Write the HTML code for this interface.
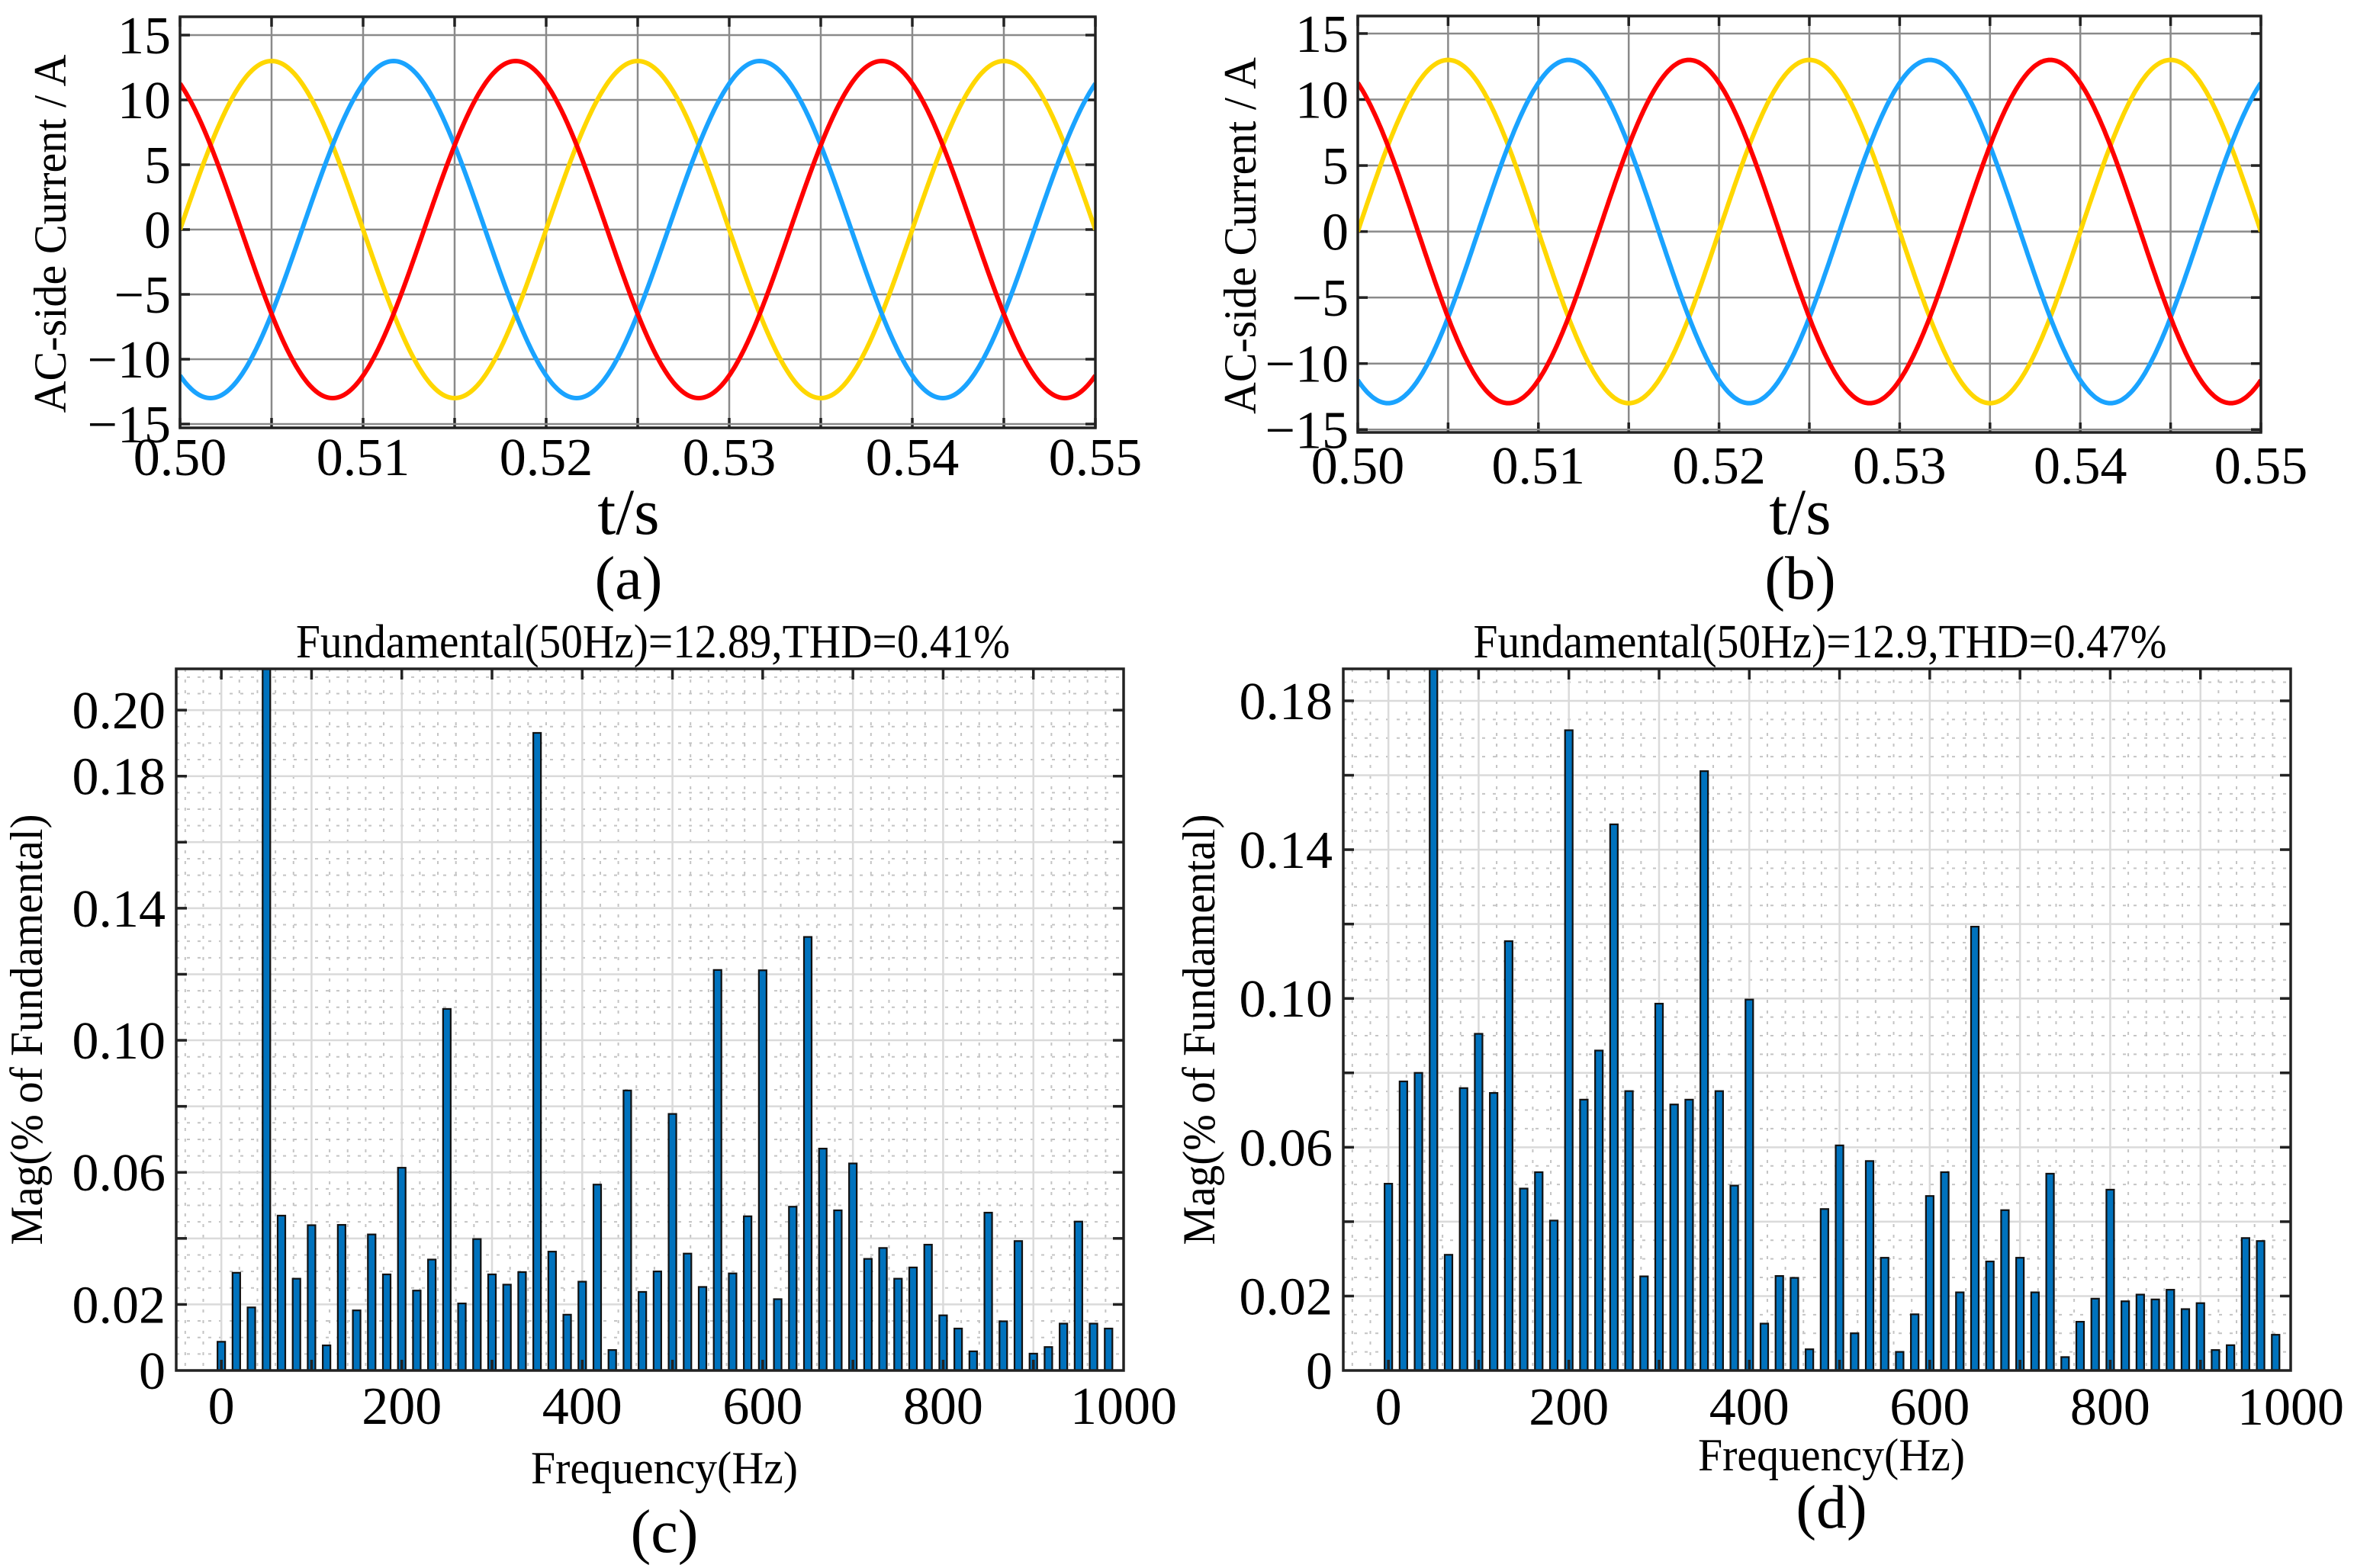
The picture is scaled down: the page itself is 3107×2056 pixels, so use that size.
<!DOCTYPE html>
<html><head><meta charset="utf-8"><style>
html,body{margin:0;padding:0;background:#fff;}
svg{display:block;}
text{font-family:"Liberation Serif",serif;fill:#000;}
</style></head><body>
<svg id="fig" width="3107" height="2056" viewBox="0 0 3107 2056" xmlns="http://www.w3.org/2000/svg"></svg>
<script>
// ---- waveform data (panels a, b) ----
const phaseNames = ['phase-a','phase-b','phase-c'];
const phaseColors = ['#FFD700','#1AA3FF','#FF0000'];
const amplitudesA = [13.0, 13.0, 13.0];
const amplitudesB = [13.0, 13.0, 13.0];
const phaseDeg = [0, -120, 120];
const gridFreq = [50];
const timeTicks = [0.50,0.51,0.52,0.53,0.54,0.55];
const timeTickLabels = ['0.50','0.51','0.52','0.53','0.54','0.55'];
const currentTicks = [-15,-10,-5,0,5,10,15];
const currentTickLabels = ['\u221215','\u221210','\u22125','0','5','10','15'];

// ---- spectrum data (panels c, d) ----
const harmonicStepHz = [50/3];
const spectrumC = [0.0087,0.0296,0.0191,0.25,0.0469,0.0278,0.0440,0.0076,0.0441,0.0182,
 0.0412,0.0291,0.0614,0.0242,0.0336,0.1095,0.0203,0.0398,0.0291,0.0260,
 0.0298,0.1931,0.0360,0.0169,0.0269,0.0563,0.0062,0.0848,0.0238,0.0300,
 0.0777,0.0354,0.0253,0.1213,0.0294,0.0467,0.1212,0.0216,0.0496,0.1313,
 0.0672,0.0485,0.0627,0.0338,0.0371,0.0278,0.0312,0.0381,0.0167,0.0127,
 0.0058,0.0478,0.0149,0.0392,0.0051,0.0071,0.0142,0.0451,0.0142,0.0127];
const spectrumD = [0.0502,0.0777,0.0800,0.25,0.0311,0.0759,0.0905,0.0746,0.1154,0.0489,
 0.0533,0.0403,0.1721,0.0728,0.0860,0.1468,0.0751,0.0253,0.0986,0.0715,
 0.0728,0.1611,0.0751,0.0497,0.0997,0.0126,0.0254,0.0249,0.0057,0.0434,
 0.0605,0.0100,0.0563,0.0303,0.0050,0.0151,0.0469,0.0533,0.0210,0.1193,
 0.0293,0.0431,0.0303,0.0210,0.0529,0.0036,0.0131,0.0193,0.0486,0.0186,
 0.0204,0.0191,0.0217,0.0165,0.0181,0.0055,0.0068,0.0356,0.0348,0.0096];
const freqTicks = [0,200,400,600,800,1000];
const freqTickLabels = ['0','200','400','600','800','1000'];
const magTicksC = [0,0.02,0.06,0.10,0.14,0.18,0.20];
const magTickLabelsC = ['0','0.02','0.06','0.10','0.14','0.18','0.20'];
const magTicksD = [0,0.02,0.06,0.10,0.14,0.18];
const magTickLabelsD = ['0','0.02','0.06','0.10','0.14','0.18'];

const NS='http://www.w3.org/2000/svg';
const fig=document.getElementById('fig');
function mk(tag,attrs,parent){const e=document.createElementNS(NS,tag);for(const k in attrs)e.setAttribute(k,attrs[k]);(parent||fig).appendChild(e);return e;}
function txt(str,attrs,parent){const e=mk('text',attrs,parent);e.textContent=str;return e;}

function wavePanel(id,L,R,T,B,y0,ppu,amps,xlabY,ylabX,ylabLen,letter){
  const g=mk('g',{});
  
  
  const t0=0.5,t1=0.55;
  const sx=t=>L+(t-t0)/(t1-t0)*(R-L);
  const sy=v=>y0-v*ppu;
  for(let k=0;k<=10;k++){const t=t0+k*0.005;const x=sx(t);
    const l=mk('line',{x1:x,x2:x,y1:T,y2:B,stroke:'#8a8a8a','stroke-width':2.5},g);
    
    mk('line',{x1:x,x2:x,y1:T,y2:T+13,stroke:'#222','stroke-width':3.5},g);
    mk('line',{x1:x,x2:x,y1:B,y2:B-13,stroke:'#222','stroke-width':3.5},g);}
  currentTicks.forEach(v=>{const y=sy(v);
    const l=mk('line',{x1:L,x2:R,y1:y,y2:y,stroke:'#8a8a8a','stroke-width':2.5},g);
    
    mk('line',{x1:L,x2:L+13,y1:y,y2:y,stroke:'#222','stroke-width':3.5},g);
    mk('line',{x1:R,x2:R-13,y1:y,y2:y,stroke:'#222','stroke-width':3.5},g);});
  const clipId='clip-'+id;
  const cp=mk('clipPath',{id:clipId},g);mk('rect',{x:L,y:T,width:R-L,height:B-T},cp);
  amps.forEach((A,i)=>{
    let d='';const N=600;
    for(let n=0;n<=N;n++){const t=t0+(t1-t0)*n/N;
      const v=A*Math.sin(2*Math.PI*gridFreq[0]*(t-t0)+phaseDeg[i]*Math.PI/180);
      d+=(n?'L':'M')+sx(t).toFixed(1)+' '+sy(v).toFixed(1);}
    const p=mk('path',{d:d,fill:'none',stroke:phaseColors[i],'stroke-width':6,'clip-path':'url(#'+clipId+')'},g);
    
    
  });
  const box=mk('rect',{x:L,y:T,width:R-L,height:B-T,fill:'none',stroke:'#222','stroke-width':3.5},g);
  
  timeTicks.forEach((t,i)=>{const e=txt(timeTickLabels[i],{x:sx(t),y:xlabY,'font-size':70,'text-anchor':'middle'},g);
    });
  currentTicks.forEach((v,i)=>{const e=txt(currentTickLabels[i],{x:L-12,y:sy(v)+24,'font-size':70,'text-anchor':'end'},g);
    });
  const cx=(L+R)/2-12;
  const xt=txt('t/s',{x:cx,y:700,'font-size':86,'text-anchor':'middle'},g);
  
  const yt=txt('AC-side Current / A',{x:0,y:0,'font-size':60,'text-anchor':'middle',textLength:ylabLen,lengthAdjust:'spacingAndGlyphs',transform:'translate('+ylabX+','+((T+B)/2+15)+') rotate(-90)'},g);
  
  const pl=txt('('+letter+')',{x:cx,y:785,'font-size':80,'text-anchor':'middle'},g);
  
}

function barPanel(id,L,R,T,B,ymax,vals,ticks,tickLabels,title,ylabX,letter,titleLen,xlabY,ftY,letY){
  const g=mk('g',{});
  
  
  const xmin=-50,xmax=1000;
  const sx=f=>L+(f-xmin)/(xmax-xmin)*(R-L);
  const sy=v=>B-v/ymax*(B-T);
  for(let f=-40;f<1000;f+=20){if(f%100===0)continue;const x=sx(f);
    mk('line',{x1:x,x2:x,y1:T,y2:B,stroke:'#c4c4c4','stroke-width':2,'stroke-dasharray':'4 10'},g);}
  for(let v=0.005;v<ymax;v+=0.005){if(Math.abs(v/0.02-Math.round(v/0.02))<1e-6)continue;const y=sy(v);
    mk('line',{x1:L,x2:R,y1:y,y2:y,stroke:'#c4c4c4','stroke-width':2,'stroke-dasharray':'4 10'},g);}
  for(let f=0;f<1000;f+=100){const x=sx(f);
    const l=mk('line',{x1:x,x2:x,y1:T,y2:B,stroke:'#dadada','stroke-width':2.5},g);
    
    mk('line',{x1:x,x2:x,y1:T,y2:T+14,stroke:'#222','stroke-width':3.5},g);}
  for(let v=0.02;v<ymax;v+=0.02){const y=sy(v);
    const l=mk('line',{x1:L,x2:R,y1:y,y2:y,stroke:'#dadada','stroke-width':2.5},g);
    
    mk('line',{x1:L,x2:L+14,y1:y,y2:y,stroke:'#222','stroke-width':3.5},g);
    mk('line',{x1:R,x2:R-14,y1:y,y2:y,stroke:'#222','stroke-width':3.5},g);}
  const clipId='clip-'+id;
  const cp=mk('clipPath',{id:clipId},g);mk('rect',{x:L,y:T,width:R-L,height:B-T},cp);
  const bw=10;
  vals.forEach((v,k)=>{const f=k*harmonicStepHz[0];const x=sx(f);
    const b=mk('rect',{x:x-bw/2,y:sy(v),width:bw,height:B-sy(v),fill:'#0072BD',stroke:'#111','stroke-width':2.2,'clip-path':'url(#'+clipId+')'},g);
    
    });
  for(let f=0;f<1000;f+=100){const x=sx(f);mk('line',{x1:x,x2:x,y1:B,y2:B-14,stroke:'#222','stroke-width':3.5},g);}
  const box=mk('rect',{x:L,y:T,width:R-L,height:B-T,fill:'none',stroke:'#222','stroke-width':3.5},g);
  
  freqTicks.forEach((f,i)=>{const e=txt(freqTickLabels[i],{x:sx(f),y:xlabY,'font-size':70,'text-anchor':'middle'},g);
    });
  ticks.forEach((v,i)=>{const e=txt(tickLabels[i],{x:L-14,y:sy(v)+24,'font-size':70,'text-anchor':'end'},g);
    });
  const cx=(L+R)/2+19;
  const tt=txt(title,{x:(L+R)/2+4,y:862,'font-size':62,'text-anchor':'middle',textLength:titleLen,lengthAdjust:'spacingAndGlyphs'},g);
  
  const xt=txt('Frequency(Hz)',{x:cx,y:ftY,'font-size':60,'text-anchor':'middle',textLength:350,lengthAdjust:'spacingAndGlyphs'},g);
  
  const yt=txt('Mag(% of Fundamental)',{x:0,y:0,'font-size':60,'text-anchor':'middle',textLength:565,lengthAdjust:'spacingAndGlyphs',transform:'translate('+ylabX+',1350) rotate(-90)'},g);
  
  const pl=txt('('+letter+')',{x:cx,y:letY,'font-size':80,'text-anchor':'middle'},g);
  
}

wavePanel('a',236,1436,22,561,301,17.0,amplitudesA,623,86,470,'a');
wavePanel('b',1780,2964,21,567,303.6,17.31,amplitudesB,634,1646,468,'b');
barPanel('c',231,1473,877,1797,0.2125,spectrumC,magTicksC,magTickLabelsC,'Fundamental(50Hz)=12.89,THD=0.41%',55,'c',936,1867,1945,2035);
barPanel('d',1761,3003,877,1797,0.1886,spectrumD,magTicksD,magTickLabelsD,'Fundamental(50Hz)=12.9,THD=0.47%',1592,'d',909,1868,1928,2003);
</script>
</body></html>
